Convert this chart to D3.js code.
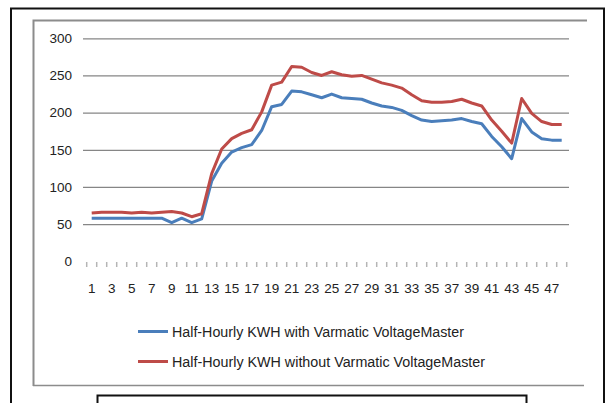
<!DOCTYPE html>
<html><head><meta charset="utf-8">
<script src="https://cdn.jsdelivr.net/npm/d3@7"></script>
<style>
html,body{margin:0;padding:0;background:#fff;}
svg{display:block;}
text{font-family:"Liberation Sans",Arial,sans-serif;fill:#222;}
</style></head>
<body>
<svg id="chart" width="608" height="403"></svg>
<script>
const categories = [1,2,3,4,5,6,7,8,9,10,11,12,13,14,15,16,17,18,19,20,21,22,23,24,25,26,27,28,29,30,31,32,33,34,35,36,37,38,39,40,41,42,43,44,45,46,47,48];
const withVM = [58,58,58,58,58,58,58,58,52,58,52,57,108,132,147,153,157,176,208,211,229,228,224,220,225,220,219,218,213,209,207,203,196,190,188,189,190,192,188,185,168,154,138,192,174,165,163,163];
const withoutVM = [65,66,66,66,65,66,65,66,67,65,60,64,118,151,165,172,177,201,237,241,262,261,254,250,255,251,249,250,245,240,237,233,224,216,214,214,215,218,213,209,190,175,159,219,199,188,184,184];
const yTicks = [0,50,100,150,200,250,300];
const seriesNames = ["Half-Hourly KWH with Varmatic VoltageMaster","Half-Hourly KWH without Varmatic VoltageMaster"];
const seriesColors = ["#4a7ebb","#be4b48"];

const svg = d3.select("#chart");

// frames
svg.append("rect").attr("x",11).attr("y",8.5).attr("width",593).attr("height",420)
  .attr("fill","none").attr("stroke","#111").attr("stroke-width",2);
svg.append("path").attr("d","M33.5,386 L33.5,20.5 L587,20.5").attr("fill","none").attr("stroke","#8c8c8c").attr("stroke-width",2);
svg.append("line").attr("x1",33).attr("x2",584).attr("y1",385.5).attr("y2",385.5).attr("stroke","#8c8c8c").attr("stroke-width",1.5);
svg.append("rect").attr("x",97.5).attr("y",395.5).attr("width",429).attr("height",30)
  .attr("fill","none").attr("stroke","#111").attr("stroke-width",2);

const x = d3.scaleBand().domain(categories).range([86.7,566.7]).padding(0);
const y = d3.scaleLinear().domain([0,300]).range([261.3,38.3]);
const cx = d => x(d) + x.bandwidth()/2;

// gridlines
svg.append("g").attr("transform","translate(83,0)")
  .call(d3.axisLeft(y).tickValues(yTicks.filter(v=>v>0)).tickSize(-486).tickFormat(""))
  .call(g=>g.select(".domain").remove())
  .call(g=>g.selectAll("line").attr("stroke","#868686").attr("stroke-width",1.3));

// y labels
svg.append("g").attr("transform","translate(83,0)")
  .call(d3.axisLeft(y).tickValues(yTicks).tickSize(0).tickPadding(11))
  .call(g=>g.select(".domain").remove())
  .call(g=>g.selectAll("text").attr("font-size","13.5px").attr("font-family","Liberation Sans, Arial, sans-serif").attr("fill","#222"));

// x tick marks at band boundaries
const bounds = categories.map(c=>x(c)).concat([x(categories[categories.length-1])+x.bandwidth()]);
svg.append("g").selectAll("line").data(bounds).join("line")
  .attr("x1",d=>d).attr("x2",d=>d).attr("y1",262).attr("y2",267)
  .attr("stroke","#b5b5b5").attr("stroke-width",1.5);

// x labels
svg.append("g").attr("transform","translate(0,262)")
  .call(d3.axisBottom(x).tickSize(0).tickPadding(21).tickFormat(d=> d%2===1 ? d : ""))
  .call(g=>g.select(".domain").remove())
  .call(g=>g.selectAll("text").attr("font-size","13.5px").attr("font-family","Liberation Sans, Arial, sans-serif").attr("fill","#222"));

// lines
const line = d3.line().x((d,i)=>cx(categories[i])).y(d=>y(d));
[withVM, withoutVM].forEach((s,k)=>{
  svg.append("path").datum(s).attr("d",line).attr("fill","none")
    .attr("stroke",seriesColors[k]).attr("stroke-width",3).attr("stroke-linejoin","round");
});

// legend
const legY = [331.5, 361.5];
const legW = [292, 313];
seriesNames.forEach((n,k)=>{
  svg.append("line").attr("x1",138).attr("x2",168).attr("y1",legY[k]).attr("y2",legY[k])
    .attr("stroke",seriesColors[k]).attr("stroke-width",3);
  svg.append("text").attr("x",172).attr("y",legY[k]+5).attr("font-size","14px")
    .attr("textLength",legW[k]).attr("lengthAdjust","spacingAndGlyphs").text(n);
});
</script>
</body></html>
